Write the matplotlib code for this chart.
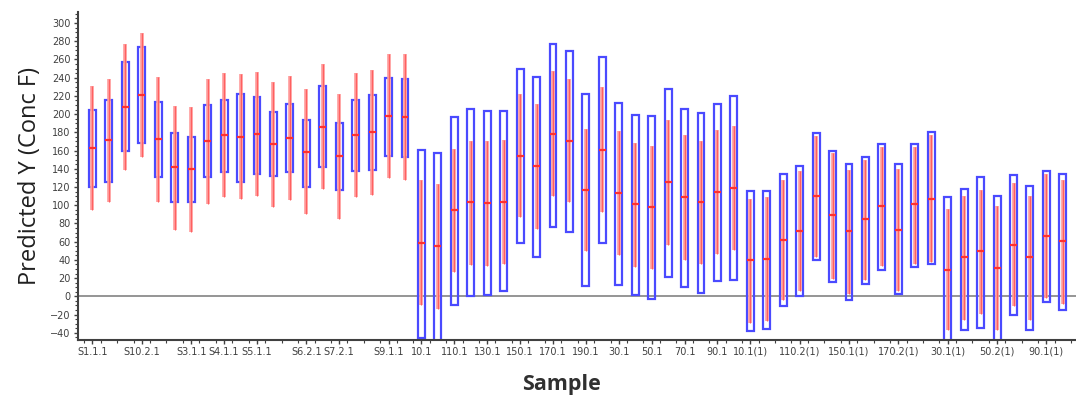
import numpy as np
import matplotlib
matplotlib.use("Agg")
import matplotlib.pyplot as plt

# sample positions 0..59, only some of them carry a tick label
n_samples = 60
tick_pos = [0, 3, 6, 8, 10, 13, 15, 18, 20, 22, 24, 26, 28, 30, 32, 34, 36, 38,
            40, 43, 46, 49, 52, 55, 58]
tick_labels = ["S1.1.1", "S10.2.1", "S3.1.1", "S4.1.1", "S5.1.1", "S6.2.1", "S7.2.1", "S9.1.1",
               "10.1", "110.1", "130.1", "150.1", "170.1", "190.1", "30.1", "50.1", "70.1", "90.1",
               "10.1(1)", "110.2(1)", "150.1(1)", "170.2(1)", "30.1(1)", "50.2(1)", "90.1(1)"]

# blue box limits
box_hi = [204, 216, 257, 274, 213, 179, 175, 210, 216, 222, 219, 202, 211, 194, 231, 190, 216, 221, 240, 239,
          161, 157, 197, 206, 203, 203, 249, 241, 277, 269, 222, 263, 212, 199, 198, 227, 206, 201, 211, 220,
          116, 116, 134, 143, 179, 160, 145, 153, 167, 145, 167, 180, 109, 118, 131, 110, 133, 121, 138, 134]
box_lo = [120, 125, 160, 168, 131, 103, 104, 131, 136, 126, 134, 132, 136, 120, 142, 117, 137, 139, 154, 153,
          -46, -55, -9, 0, 1, 6, 58, 43, 76, 71, 11, 58, 12, 1, -3, 21, 10, 4, 17, 18,
          -38, -36, -11, 0, 40, 16, -4, 14, 29, 2, 32, 35, -55, -37, -35, -55, -20, -37, -6, -15]
# red interval and predicted value
red_hi = [231, 239, 277, 289, 241, 209, 208, 238, 245, 244, 246, 235, 242, 227, 255, 222, 245, 248, 266, 266,
          128, 123, 162, 171, 170, 172, 222, 211, 247, 238, 184, 230, 181, 168, 165, 193, 177, 171, 183, 187,
          107, 109, 128, 137, 176, 157, 139, 150, 164, 140, 164, 177, 96, 110, 117, 99, 124, 110, 134, 128]
red_lo = [95, 103, 139, 153, 104, 73, 71, 101, 109, 107, 110, 98, 106, 90, 118, 85, 109, 111, 130, 128,
          -10, -14, 27, 34, 33, 36, 87, 74, 110, 103, 50, 93, 45, 32, 30, 56, 40, 35, 46, 51,
          -29, -27, -4, 6, 43, 19, 3, 18, 33, 6, 35, 38, -37, -26, -19, -37, -11, -26, -2, -8]
pred = [163, 172, 208, 221, 173, 142, 140, 170, 177, 175, 178, 167, 174, 158, 186, 154, 177, 180, 198, 197,
        59, 55, 95, 103, 102, 104, 154, 143, 178, 171, 117, 161, 113, 101, 98, 125, 109, 103, 114, 119,
        40, 41, 62, 72, 110, 89, 72, 85, 99, 73, 101, 107, 29, 43, 50, 31, 56, 43, 66, 61]

x = np.arange(n_samples)
box_hi = np.array(box_hi)
box_lo = np.array(box_lo)
w = 0.42

fig = plt.figure(figsize=(10.76, 4.01), dpi=100)
ax = fig.add_axes([0.0722, 0.152, 0.9278, 0.818])

ax.axhline(0, color="#8c8c8c", lw=1.3, zorder=1)

# boxes
ax.bar(x, box_hi - box_lo, bottom=box_lo, width=w, fill=False,
       edgecolor="#4a4aff", linewidth=1.6, zorder=2)
# red intervals
ax.vlines(x, red_lo, red_hi, color="#ff9a9a", lw=2.6, zorder=3)
ax.vlines(x, red_lo, red_hi, color="#ff6060", lw=0.8, zorder=3)
# predicted value
ax.hlines(pred, x - w / 2, x + w / 2, color="#ff3030", lw=1.6, zorder=4)

ax.set_xlim(-0.9, 59.8)
ax.set_ylim(-48, 312)

ax.set_yticks(np.arange(-40, 301, 20))
ax.set_yticks(np.arange(-45, 311, 5), minor=True)
ax.set_xticks(tick_pos)
ax.set_xticklabels(tick_labels)
ax.set_xticks(np.arange(-0.5, 60, 1.0), minor=True)

for sp in ["top", "right"]:
    ax.spines[sp].set_visible(False)
for sp in ["left", "bottom"]:
    ax.spines[sp].set_color("#404040")
    ax.spines[sp].set_linewidth(1.5)

ax.tick_params(axis="both", which="major", length=3, width=1, color="#404040",
               labelsize=7, labelcolor="#404040", pad=2)
ax.tick_params(axis="both", which="minor", length=2, width=0.8, color="#404040")
for lbl in ax.get_xticklabels() + ax.get_yticklabels():
    lbl.set_family(["Liberation Sans Narrow", "DejaVu Sans"])

ax.set_ylabel("Predicted Y (Conc F)", fontsize=17, family="Open Sans", color="#202020", labelpad=6)
ax.set_xlabel("Sample", fontsize=15.5, family="Open Sans", fontweight="bold", color="#303030")
ax.xaxis.label.set_va("center")
ax.xaxis.set_label_coords(0.485, -0.137)

fig.savefig("out.png", dpi=100)
